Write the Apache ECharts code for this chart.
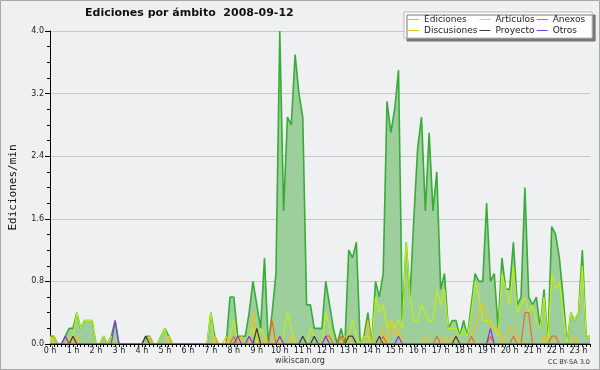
<!DOCTYPE html>
<html><head><meta charset="utf-8">
<script src="https://cdn.jsdelivr.net/npm/echarts@6/dist/echarts.min.js"></script>
<style>html,body{margin:0;padding:0;background:#eff0f1}#c{width:600px;height:370px}</style>
</head><body><div id="c"></div><script>
// Tick labels (one per hour)
const hourLabels = ['0 h','1 h','2 h','3 h','4 h','5 h','6 h','7 h','8 h','9 h','10 h','11 h',
  '12 h','13 h','14 h','15 h','16 h','17 h','18 h','19 h','20 h','21 h','22 h','23 h'];

// Values in edits/min, one per 10-minute slot (6 per hour, rows = hours)
const ediciones = [
  0.1,0.1,0,0,0.1,0.2,
  0.2,0.4,0.2,0.3,0.3,0.3,
  0,0,0.1,0,0.1,0.3,
  0,0,0,0,0,0,
  0,0.1,0.1,0,0,0.1,
  0.2,0.1,0,0,0,0,
  0,0,0,0,0,0,
  0.4,0.1,0,0,0,0.6,
  0.6,0.1,0.1,0.1,0.4,0.8,
  0.5,0.2,1.1,0,0.4,0.9,
  4.0,1.7,2.9,2.8,3.7,3.2,
  2.9,0.5,0.5,0.2,0.2,0.2,
  0.8,0.5,0.2,0,0.2,0,
  1.2,1.1,1.3,0,0.1,0.4,
  0,0.8,0.6,0.9,3.1,2.7,
  3.0,3.5,0.3,1.3,0.6,1.6,
  2.5,2.9,1.7,2.7,1.7,2.2,
  0.7,0.9,0.2,0.3,0.3,0.1,
  0.3,0.1,0.5,0.9,0.8,0.8,
  1.8,0.8,0.9,0.2,1.1,0.7,
  0.7,1.3,0.5,0.6,2.0,0.6,
  0.5,0.6,0.2,0.7,0,1.5,
  1.4,1.1,0.6,0,0.4,0.3,
  0.4,1.2,0.1,0.1
];
const articulos = [
  0.1,0,0,0,0,0,
  0.1,0.4,0.2,0.3,0.3,0.3,
  0,0,0.1,0,0.1,0,
  0,0,0,0,0,0,
  0,0,0,0,0,0.1,
  0.2,0,0,0,0,0,
  0,0,0,0,0,0,
  0.4,0,0,0,0,0.1,
  0.3,0,0,0,0.1,0.2,
  0,0.2,0.1,0,0,0.1,
  0,0.1,0.4,0.2,0,0,
  0,0,0.2,0.1,0,0,
  0.4,0.2,0,0,0,0,
  0.1,0.3,0.1,0,0.1,0.1,
  0,0.6,0.4,0.5,0.2,0.3,
  0.2,0.3,0.2,1.3,0.6,0.3,
  0.3,0.5,0.4,0.3,0.3,0.7,
  0.5,0.7,0.2,0.2,0.2,0.1,
  0.2,0.1,0.4,0.8,0.6,0.3,
  0.3,0.3,0.2,0.1,0.9,0.7,
  0.5,1.0,0.4,0.5,0.6,0.4,
  0.5,0.3,0.2,0.6,0,0.9,
  0.7,0.8,0.4,0,0.4,0.3,
  0.4,1.0,0.1,0.1
];
const discusiones = [
  0,0.1,0,0,0,0.1,
  0,0.1,0,0,0,0,
  0,0,0,0,0,0,
  0,0,0,0,0,0,
  0,0,0.1,0,0,0,
  0,0.1,0,0,0,0,
  0,0,0,0,0,0,
  0,0.1,0,0,0.1,0,
  0.1,0,0.1,0,0,0.4,
  0.1,0,0.1,0,0,0.1,
  0,0,0,0.1,0,0,
  0,0,0,0,0,0,
  0,0,0,0,0,0.1,
  0.1,0,0,0,0,0.3,
  0,0,0.1,0.2,0,0.3,
  0.1,0.2,0,0,0,0,
  0,0,0.1,0,0,0,
  0,0.1,0,0.1,0,0,
  0,0,0.1,0.2,0.4,0.5,
  0.4,0.2,0.2,0.2,0,0.1,
  0.2,0.2,0.1,0,0,0,
  0,0,0,0.1,0,0,
  0,0,0,0,0,0.1,
  0,0,0,0
];
const proyecto = [
  0,0,0,0,0,0,
  0.1,0,0,0,0,0,
  0,0,0,0,0,0,
  0,0,0,0,0,0,
  0,0.1,0,0,0,0,
  0,0,0,0,0,0,
  0,0,0,0,0,0,
  0,0,0,0,0,0,
  0,0,0,0,0,0,
  0.2,0,0,0,0,0,
  0,0,0,0,0,0,
  0.1,0,0,0.1,0,0,
  0,0,0,0,0,0,
  0.1,0.1,0,0,0,0,
  0,0,0.1,0,0,0,
  0,0,0,0,0,0,
  0,0,0,0,0,0,
  0,0,0,0,0.1,0,
  0,0,0,0,0,0,
  0,0,0,0,0,0,
  0,0,0,0,0,0,
  0,0,0,0,0,0,
  0,0,0,0,0,0,
  0,0,0,0
];
const anexos = [
  0,0,0,0,0,0,
  0,0,0,0,0,0,
  0,0,0,0,0,0,
  0,0,0,0,0,0,
  0,0,0,0,0,0,
  0,0,0,0,0,0,
  0,0,0,0,0,0,
  0,0,0,0,0,0,
  0.1,0,0,0,0,0,
  0,0,0,0,0.3,0,
  0,0,0,0,0,0,
  0,0,0,0,0,0,
  0.1,0.1,0,0,0.1,0,
  0,0,0,0,0,0,
  0,0,0,0.1,0,0,
  0,0,0,0,0,0,
  0,0,0,0,0,0.1,
  0,0,0,0,0,0,
  0,0,0.1,0,0,0,
  0,0.1,0,0,0,0,
  0,0.1,0,0,0.4,0.4,
  0,0,0,0,0,0.1,
  0.1,0,0,0,0,0,
  0,0,0,0
];
const otros = [
  0,0,0,0,0.1,0,
  0,0,0,0,0,0,
  0,0,0,0,0,0.3,
  0,0,0,0,0,0,
  0,0,0,0,0,0,
  0,0,0,0,0,0,
  0,0,0,0,0,0,
  0,0,0,0,0,0,
  0,0.1,0,0,0.1,0,
  0,0,0,0,0,0,
  0.1,0,0,0,0,0,
  0,0,0,0,0,0,
  0.1,0,0,0,0,0,
  0,0,0,0,0,0,
  0,0,0,0,0,0,
  0,0.1,0,0,0,0,
  0,0,0,0,0,0,
  0,0,0,0,0,0,
  0,0,0,0,0,0,
  0,0.2,0,0,0,0,
  0,0,0,0,0,0,
  0,0,0,0,0,0,
  0,0,0,0,0,0,
  0,0,0,0
];

const slotsPerHour = 6;
const slots = ediciones.map((_, i) => {
  const h = Math.floor(i / slotsPerHour), m = (i % slotsPerHour) * 10;
  return String(h).padStart(2,'0') + ':' + String(m).padStart(2,'0');
});

const colors = {
  ediciones: '#38ab38', edicionesFill: '#9dcf9d', edicionesLegend: '#8fcc8f',
  articulos: '#c2ee14', discusiones: '#f5c211', proyecto: '#3a3a3a',
  anexos: '#f26a1b', otros: '#8a33e8'
};

const small = (name, data, color) => ({
  type: 'line', name, data, symbol: 'none', color,
  lineStyle: { color, width: 1.2 }, z: 3
});

const chart = echarts.init(document.getElementById('c'), null, { renderer: 'canvas' });
chart.setOption({
  animation: false,
  backgroundColor: '#eff0f1',
  title: {
    text: 'Ediciones por ámbito  2008-09-12', left: 85, top: 8, padding: 0,
    textStyle: { fontFamily: 'DejaVu Sans', fontSize: 11, fontWeight: 'bold', color: '#111' }
  },
  legend: {
    orient: 'vertical', left: 404, top: 12, height: 22, padding: [3, 7, 3, 4],
    itemGap: 2, itemWidth: 11, itemHeight: 1, icon: 'rect',
    backgroundColor: '#ffffff', borderColor: '#b8b8b8', borderWidth: 1,
    shadowColor: '#777', shadowBlur: 0.01, shadowOffsetX: 3, shadowOffsetY: 3,
    selectedMode: false,
    textStyle: { fontFamily: 'DejaVu Sans', fontSize: 9, color: '#222', lineHeight: 9, padding: [0, 0, 0, 0] },
    data: [
      { name: 'Ediciones', itemStyle: { color: colors.edicionesLegend } },
      { name: 'Discusiones', itemStyle: { color: colors.discusiones } },
      { name: 'Artículos', itemStyle: { color: colors.articulos } },
      { name: 'Proyecto', itemStyle: { color: colors.proyecto } },
      { name: 'Anexos', itemStyle: { color: colors.anexos } },
      { name: 'Otros', itemStyle: { color: colors.otros } }
    ]
  },
  grid: { left: 45, right: 10, top: 31, bottom: 26, containLabel: false },
  xAxis: {
    type: 'category', data: slots, boundaryGap: false, z: 5,
    axisLine: { lineStyle: { color: '#000', width: 1 } },
    axisTick: { show: true, interval: 0, length: 3, lineStyle: { color: '#000' } },
    axisLabel: {
      interval: slotsPerHour - 1, margin: 3,
      formatter: (v, i) => hourLabels[Math.floor(i / slotsPerHour)],
      fontFamily: 'DejaVu Sans', fontSize: 8, color: '#222'
    },
    splitLine: { show: false }
  },
  yAxis: {
    type: 'value', min: 0, max: 4, interval: 0.8,
    name: 'Ediciones/min', nameLocation: 'middle', nameRotate: 90, nameGap: 31,
    nameTextStyle: { fontFamily: 'DejaVu Sans Mono', fontSize: 11, color: '#111' },
    axisLine: { show: true, lineStyle: { color: '#000' } },
    axisTick: { show: true, length: 5, lineStyle: { color: '#000' } },
    minorTick: { show: true, splitNumber: 4, length: 3, lineStyle: { color: '#000' } },
    axisLabel: { formatter: v => v.toFixed(1), fontFamily: 'DejaVu Sans', fontSize: 8, color: '#222', margin: 6 },
    splitLine: { lineStyle: { color: '#c8c8c8' } }
  },
  series: [
    {
      type: 'line', name: 'Ediciones', data: ediciones, symbol: 'none', color: colors.edicionesLegend,
      lineStyle: { color: colors.ediciones, width: 1.6 },
      areaStyle: { color: colors.edicionesFill, opacity: 1 }, z: 2
    },
    small('Artículos', articulos, colors.articulos),
    small('Discusiones', discusiones, colors.discusiones),
    small('Proyecto', proyecto, colors.proyecto),
    small('Anexos', anexos, colors.anexos),
    small('Otros', otros, colors.otros)
  ],
  graphic: [
    { type: 'rect', silent: true, shape: { x: 0.5, y: 0.5, width: 599, height: 369 },
      style: { fill: 'none', stroke: '#a8a8a8', lineWidth: 1 } },
    { type: 'text', left: 'center', top: 357,
      style: { text: 'wikiscan.org', font: '8px "DejaVu Sans"', fill: '#333' } },
    { type: 'text', right: 10, top: 359,
      style: { text: 'CC BY-SA 3.0', font: '6.5px "DejaVu Sans"', fill: '#333' } }
  ]
});
</script></body></html>
